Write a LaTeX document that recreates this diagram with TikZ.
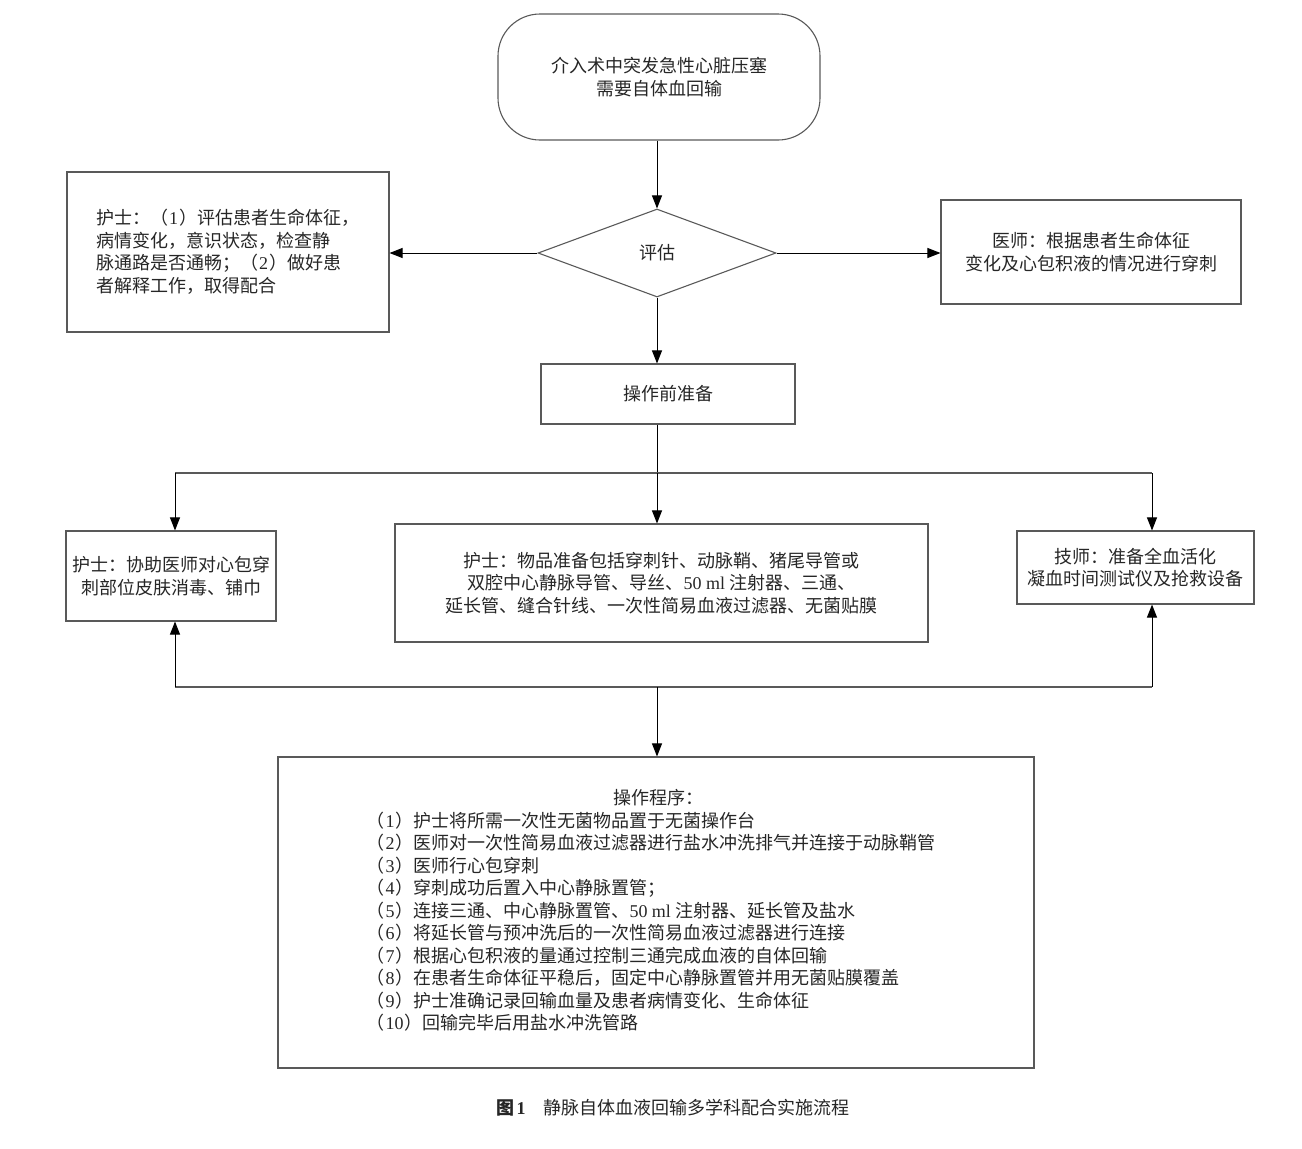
\documentclass[tikz,border=0pt]{standalone}
\usepackage{fontspec}
\setmainfont{Noto Sans CJK SC}
\newfontfamily\latinf{Liberation Serif}
\newcommand{\pn}[1]{（\hspace{1pt}{\latinf #1}\hspace{1pt}）}
\usetikzlibrary{shapes.geometric,arrows.meta}
\begin{document}
\begin{tikzpicture}[x=1pt,y=-1pt,
  every node/.style={font=\fontsize{18}{22.5}\selectfont, text=black!85},
  box/.style={draw=black!65, line width=1.1pt, rectangle, inner sep=0pt},
  link/.style={draw=black!65, line width=1.1pt},
  arr/.style={draw=black, line width=1pt, -{Triangle[length=13pt,width=10pt]}}]
\useasboundingbox (0,0) rectangle (1302,1149);

\node[box, rounded corners=42pt, minimum width=322pt, minimum height=126pt, align=center] (start) at (659,77) {介入术中突发急性心脏压塞\\需要自体血回输};
\node[box, shape=diamond, minimum width=238pt, minimum height=88pt] (eval) at (657,253) {评估};
\node[box, minimum width=322pt, minimum height=160pt, text width=264pt, align=left] (nurse1) at (228,252) {护士：\pn{1}评估患者生命体征，\\病情变化，意识状态，检查静\\脉通路是否通畅；\pn{2}做好患\\者解释工作，取得配合};
\node[box, minimum width=300pt, minimum height=104pt, align=center] (doc) at (1091,252) {医师：根据患者生命体征\\变化及心包积液的情况进行穿刺};
\node[box, minimum width=254pt, minimum height=60pt] (prep) at (668,394) {操作前准备};
\node[box, minimum width=210pt, minimum height=90pt, align=center] (nurse2) at (171,576) {护士：协助医师对心包穿\\刺部位皮肤消毒、铺巾};
\node[box, minimum width=533pt, minimum height=118pt, align=center] (mid) at (661.5,583) {护士：物品准备包括穿刺针、动脉鞘、猪尾导管或\\双腔中心静脉导管、导丝、{\latinf 50 ml} 注射器、三通、\\延长管、缝合针线、一次性简易血液过滤器、无菌贴膜};
\node[box, minimum width=237pt, minimum height=73pt, align=center] (tech) at (1135.5,567.5) {技师：准备全血活化\\凝血时间测试仪及抢救设备};
\node[box, minimum width=756pt, minimum height=311pt] (prog) at (656,912.5) {\hspace{-10pt}\begin{tabular}{@{}l@{}}
\multicolumn{1}{c}{\hspace{14pt}操作程序：}\\
\pn{1}护士将所需一次性无菌物品置于无菌操作台\\
\pn{2}医师对一次性简易血液过滤器进行盐水冲洗排气并连接于动脉鞘管\\
\pn{3}医师行心包穿刺\\
\pn{4}穿刺成功后置入中心静脉置管；\\
\pn{5}连接三通、中心静脉置管、{\latinf 50 ml} 注射器、延长管及盐水\\
\pn{6}将延长管与预冲洗后的一次性简易血液过滤器进行连接\\
\pn{7}根据心包积液的量通过控制三通完成血液的自体回输\\
\pn{8}在患者生命体征平稳后，固定中心静脉置管并用无菌贴膜覆盖\\
\pn{9}护士准确记录回输血量及患者病情变化、生命体征\\
\pn{10}回输完毕后用盐水冲洗管路
\end{tabular}};
\node (cap) at (673,1108) {\textbf{图\hspace{2pt}{\latinf\bfseries 1}}\hspace{18pt}静脉自体血液回输多学科配合实施流程};

\coordinate (j0) at (657,473);
\coordinate (jl) at (175,473);
\coordinate (jr) at (1152,473);
\coordinate (b0) at (657,687);
\coordinate (bl) at (175,687);
\coordinate (br) at (1152,687);

\draw[arr] (eval.north |- start.south) -- (eval.north);
\draw[arr] (eval.west) -- (nurse1.east |- eval.west);
\draw[arr] (eval.east) -- (doc.west |- eval.east);
\draw[arr] (eval.south) -- (eval.south |- prep.north);
\draw[arr, -] (j0 |- prep.south) -- (j0);
\draw[link] (jl) -- (jr);
\draw[arr] (jl) -- (jl |- nurse2.north);
\draw[arr] (j0) -- (j0 |- mid.north);
\draw[arr] (jr) -- (jr |- tech.north);
\draw[link] (bl) -- (br);
\draw[arr] (bl) -- (bl |- nurse2.south);
\draw[arr] (br) -- (br |- tech.south);
\draw[arr] (b0) -- (b0 |- prog.north);
\end{tikzpicture}
\end{document}
